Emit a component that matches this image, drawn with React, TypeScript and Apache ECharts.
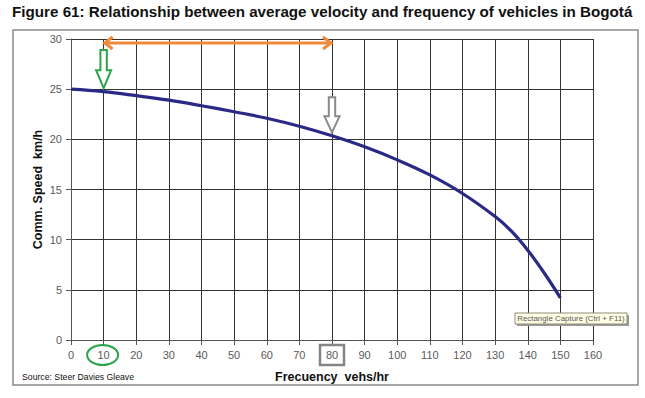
import React, { useEffect, useRef } from "react";
import * as echarts from "echarts";

const frequency = [0, 10, 20, 30, 40, 50, 60, 70, 80, 90, 100, 110, 120, 130, 135, 140, 145, 150];
const speed = [25.0, 24.75, 24.35, 23.9, 23.35, 22.75, 22.1, 21.3, 20.35, 19.25, 17.95, 16.45, 14.6, 12.3, 10.85, 8.95, 6.7, 4.2];

const titleText = "Figure 61: Relationship between average velocity and frequency of vehicles in Bogotá";
const yAxisName = "Comm. Speed  km/h";
const xAxisName = "Frecuency  vehs/hr";
const sourceText = "Source: Steer Davies Gleave";
const captureText = "Rectangle Capture (Ctrl + F11)";

// annotation anchors (data units)
const orangeArrow = { from: 10, to: 80, y: 29.6 };
const greenArrow = { x: 10, top: 28.9, bottom: 25.1 };
const grayArrow = { x: 80, top: 24.2, bottom: 20.7 };
const circledTick = 10;
const boxedTick = 80;

const FONT = "'Liberation Sans', Arial, sans-serif";

function hollowArrow(cx: number, yt: number, yb: number, headLen: number, color: string) {
  const sw = 3.2, hw = 7.5;
  const yh = yb - headLen;
  return {
    type: "polygon",
    z: 100,
    shape: {
      points: [
        [cx - sw, yt], [cx + sw, yt], [cx + sw, yh], [cx + hw, yh],
        [cx, yb], [cx - hw, yh], [cx - sw, yh],
      ],
    },
    style: { fill: "#ffffff", stroke: color, lineWidth: 2 },
  };
}

export default function App() {
  const ref = useRef<HTMLDivElement>(null);
  useEffect(() => {
    if (!ref.current) return;
    const chart = echarts.init(ref.current, undefined, { renderer: "svg" });
    const gridColor = "#333333";
    chart.setOption({
      animation: false,
      backgroundColor: "#ffffff",
      textStyle: { fontFamily: FONT },
      grid: { left: 71, right: 52, top: 39, bottom: 58, containLabel: false },
      xAxis: {
        type: "value",
        min: 0,
        max: 160,
        interval: 10,
        axisLine: { show: true, lineStyle: { color: "#555", width: 1 } },
        axisTick: { show: true, length: 5, lineStyle: { color: "#555" } },
        axisLabel: { color: "#5a5a5a", fontSize: 11, margin: 9, fontFamily: FONT },
        splitLine: { show: true, lineStyle: { color: gridColor, width: 1 } },
      },
      yAxis: {
        type: "value",
        min: 0,
        max: 30,
        interval: 5,
        axisLine: { show: true, lineStyle: { color: "#555", width: 1 } },
        axisTick: { show: true, length: 5, lineStyle: { color: "#555" } },
        axisLabel: { color: "#5a5a5a", fontSize: 11, margin: 9, fontFamily: FONT },
        splitLine: { show: true, lineStyle: { color: gridColor, width: 1 } },
      },
      series: [
        {
          type: "line",
          smooth: 0.4,
          showSymbol: false,
          data: frequency.map((f, i) => [f, speed[i]]),
          lineStyle: { color: "#2a2a86", width: 3.2 },
          z: 5,
        },
      ],
    });

    const px = (x: number, y: number) => chart.convertToPixel({ gridIndex: 0 }, [x, y]) as number[];
    const [oa1x, oay] = px(orangeArrow.from, orangeArrow.y);
    const [oa2x] = px(orangeArrow.to, orangeArrow.y);
    const [gx, gyt] = px(greenArrow.x, greenArrow.top);
    const [, gyb] = px(greenArrow.x, greenArrow.bottom);
    const [rx, ryt] = px(grayArrow.x, grayArrow.top);
    const [, ryb] = px(grayArrow.x, grayArrow.bottom);
    const [c10x, baseY] = px(circledTick, 0);
    const [b80x] = px(boxedTick, 0);
    const [, topY] = px(0, 30);
    const [mx0] = px(0, 0);
    const [mx1] = px(160, 0);
    const labelY = baseY + 15;
    const orange = "#ee8a3a";

    chart.setOption({
      graphic: [
        {
          type: "rect",
          shape: { x: 13, y: 30, width: 625, height: 355 },
          style: { fill: "none", stroke: "#8a8a8a", lineWidth: 1.5 },
          z: 1,
        },
        {
          type: "text",
          x: 12,
          y: 4,
          style: { text: titleText, font: `bold 15.2px ${FONT}`, fill: "#111" },
        },
        {
          type: "text",
          x: 38,
          y: (topY + baseY) / 2,
          rotation: Math.PI / 2,
          style: {
            text: yAxisName,
            font: `bold 12.5px ${FONT}`,
            fill: "#111",
            align: "center",
            verticalAlign: "middle",
          },
        },
        {
          type: "text",
          x: (mx0 + mx1) / 2,
          y: 377,
          style: {
            text: xAxisName,
            font: `bold 12.5px ${FONT}`,
            fill: "#111",
            align: "center",
            verticalAlign: "middle",
          },
        },
        {
          type: "text",
          x: 22,
          y: 377,
          style: { text: sourceText, font: `8.7px ${FONT}`, fill: "#111", verticalAlign: "middle" },
        },
        // orange double arrow
        {
          type: "line",
          z: 100,
          shape: { x1: oa1x + 1, y1: oay, x2: oa2x - 1, y2: oay },
          style: { stroke: orange, lineWidth: 3 },
        },
        {
          type: "polyline",
          z: 100,
          shape: { points: [[oa1x + 9, oay - 6], [oa1x + 1, oay], [oa1x + 9, oay + 6]] },
          style: { stroke: orange, lineWidth: 3, fill: "none" },
        },
        {
          type: "polyline",
          z: 100,
          shape: { points: [[oa2x - 9, oay - 6], [oa2x - 1, oay], [oa2x - 9, oay + 6]] },
          style: { stroke: orange, lineWidth: 3, fill: "none" },
        },
        hollowArrow(gx, gyt, gyb, 18, "#2ea44a"),
        hollowArrow(rx, ryt, ryb, 16, "#8a8a8a"),
        {
          type: "ellipse",
          z: 100,
          shape: { cx: c10x - 1, cy: labelY, rx: 15.5, ry: 10 },
          style: { fill: "none", stroke: "#2ea44a", lineWidth: 2 },
        },
        {
          type: "rect",
          z: 100,
          shape: { x: b80x - 12, y: labelY - 10, width: 24, height: 20 },
          style: { fill: "none", stroke: "#858585", lineWidth: 2.5 },
        },
        {
          type: "rect",
          z: 101,
          shape: { x: 517, y: 315, width: 112, height: 11 },
          style: { fill: "#9a9a9a", stroke: "none" },
        },
        {
          type: "rect",
          z: 102,
          shape: { x: 515, y: 313, width: 112, height: 11 },
          style: { fill: "#ffffe6", stroke: "#8c8c7a", lineWidth: 1 },
        },
        {
          type: "text",
          z: 103,
          x: 571,
          y: 318.5,
          style: {
            text: captureText,
            font: `7.9px ${FONT}`,
            fill: "#555",
            align: "center",
            verticalAlign: "middle",
          },
        },
      ],
    });

    return () => chart.dispose();
  }, []);
  return (
    <div
      ref={ref}
      style={{ position: "fixed", left: 0, top: 0, width: 645, height: 398, background: "#fff" }}
    />
  );
}
